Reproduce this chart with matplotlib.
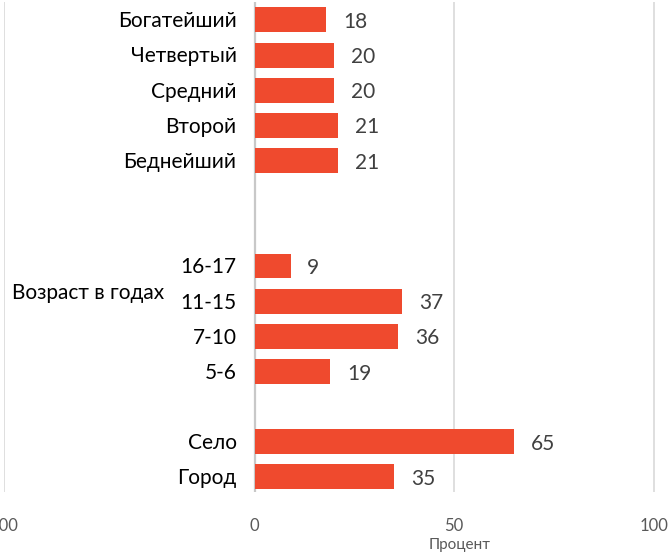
import matplotlib.pyplot as plt

# categories from top to bottom, None = empty slot
labels = ["Богатейший", "Четвертый", "Средний", "Второй", "Беднейший",
          None, None,
          "16-17", "11-15", "7-10", "5-6",
          None,
          "Село", "Город"]
values = [18, 20, 20, 21, 21,
          None, None,
          9, 37, 36, 19,
          None,
          65, 35]
group_label = "Возраст в годах"
x_ticks = [-62.8, 0, 50, 100]
x_tick_labels = ["100", "0", "50", "100"]
x_title = "Процент"

plt.rcParams['font.family'] = ['Lato', 'DejaVu Sans']

fig = plt.figure(figsize=(6.69, 5.54), dpi=100)
ax = fig.add_axes([4 / 669, 1 - 492 / 554, (653 - 4) / 669 + 0.004, 490 / 554])

bar_color = '#EF4A2E'
pos = [i for i, v in enumerate(values) if v is not None]
vals = [values[i] for i in pos]
ax.barh(pos, vals, height=0.71, color=bar_color, zorder=3)

for p, v in zip(pos, vals):
    ax.annotate(str(v), (v, p), xytext=(12, -1.5), textcoords='offset points',
                ha='left', va='center', fontsize=15, color='#404040')
    ax.annotate(labels[p], (0, p), xytext=(-13, -1), textcoords='offset points',
                ha='right', va='center', fontsize=15, color='#000000')

ax.set_xlim(-62.8, 100.5)
ax.set_ylim(13.43, -0.51)

for x in x_ticks:
    ax.axvline(x, color='#D9D9D9', lw=1.2, zorder=1)
ax.axvline(0, color='#C8C8C8', lw=1.6, zorder=2)

ax.set_xticks(x_ticks)
ax.set_xticklabels(x_tick_labels)
ax.tick_params(axis='x', length=0, pad=19, labelsize=12, labelcolor='#595959')
ax.set_yticks([])
for s in ax.spines.values():
    s.set_visible(False)

fig.text(12 / 669, 1 - 293 / 554, group_label, ha='left', va='center',
         fontsize=15, color='#000000')
fig.text(460 / 669, 1 - 545 / 554, x_title, ha='center', va='center',
         fontsize=11, color='#595959')

fig.savefig('out.png', dpi=100)
